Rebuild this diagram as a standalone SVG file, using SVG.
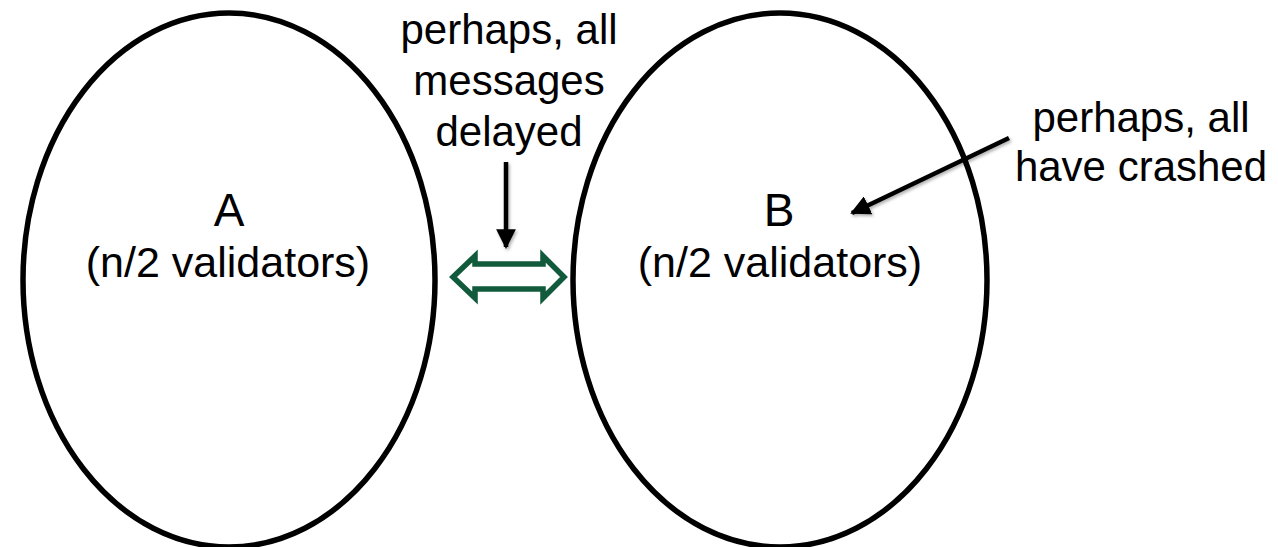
<svg xmlns="http://www.w3.org/2000/svg" width="1278" height="547" viewBox="0 0 1278 547">
  <defs>
    <style>
      .grp { fill: #ffffff; stroke: #000000; stroke-width: 5.5; }
      .lbl { font-family: "Liberation Sans", Arial, sans-serif; font-size: 42px; fill: #000000; text-anchor: middle; }
      .big { font-size: 43px; }
      .name { font-size: 46px; }
      .ptr { stroke: #000000; stroke-width: 4.5; fill: none; }
      .link { fill: #ffffff; stroke: #115a3b; stroke-width: 5.5; stroke-linejoin: miter; }
    </style>
    <filter id="soft" x="-20%" y="-20%" width="140%" height="140%">
      <feDropShadow dx="1.5" dy="2" stdDeviation="1.5" flood-color="#000000" flood-opacity="0.3"/>
    </filter>
    <marker id="head" viewBox="0 0 10 10" refX="9" refY="5" markerWidth="4.4" markerHeight="4.4" markerUnits="strokeWidth" orient="auto">
      <path d="M0,0 L10,5 L0,10 Z" fill="#000000"/>
    </marker>
  </defs>

  <rect width="1278" height="547" fill="#ffffff"/>

  <!-- group A -->
  <g id="node-a">
    <ellipse class="grp" cx="229" cy="280" rx="206" ry="267"/>
    <text class="lbl name" x="229" y="226">A</text>
    <text class="lbl big" x="228" y="277">(n/2 validators)</text>
  </g>

  <!-- group B -->
  <g id="node-b">
    <ellipse class="grp" cx="780" cy="280" rx="207" ry="267"/>
    <text class="lbl name" x="779" y="226">B</text>
    <text class="lbl big" x="780" y="277">(n/2 validators)</text>
  </g>

  <!-- notes -->
  <g id="note-delay">
    <text class="lbl" x="509" y="44">perhaps, all</text>
    <text class="lbl" x="509" y="95">messages</text>
    <text class="lbl" x="509" y="146">delayed</text>
  </g>
  <g id="note-crash">
    <text class="lbl" x="1141" y="132">perhaps, all</text>
    <text class="lbl" x="1141" y="181">have crashed</text>
  </g>

  <!-- connectors -->
  <g id="connectors">
    <path class="link" d="M453,277 L475,256 L475,264 L543,264 L543,256 L564,277 L543,298 L543,289 L475,289 L475,298 Z"/>
    <g filter="url(#soft)">
      <line class="ptr" x1="506" y1="162" x2="506" y2="247" marker-end="url(#head)"/>
      <line class="ptr" x1="1009" y1="138" x2="852" y2="213" marker-end="url(#head)"/>
    </g>
  </g>
</svg>
